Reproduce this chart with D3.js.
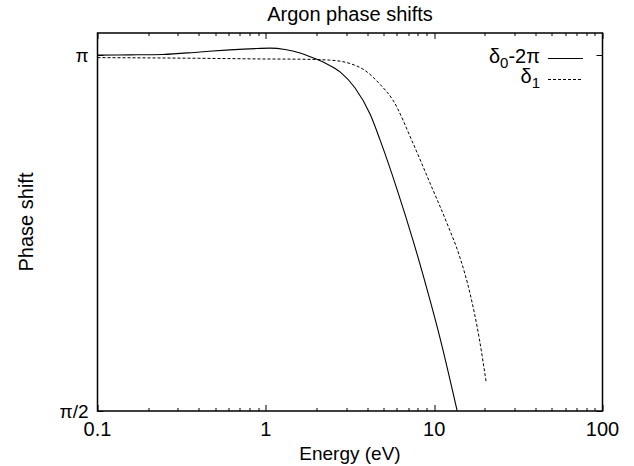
<!DOCTYPE html>
<html>
<head>
<meta charset="utf-8">
<script src="https://cdn.jsdelivr.net/npm/d3@7"></script>
<style>
  body { margin: 0; background: #fff; }
  text { font-family: "Liberation Sans", Arial, Helvetica, sans-serif; fill: #000; }
</style>
</head>
<body>
<div id="chart"></div>
<script>
// energies (eV) and phase shifts (radians)
var energy0 = [0.1, 0.156, 0.245, 0.406, 0.612, 0.886, 1.06, 1.30, 1.60, 1.83, 2.25, 2.76, 3.39, 4.16, 4.77, 6.01, 7.48, 9.44, 10.8, 13.7];
var delta0  = [3.141, 3.142, 3.144, 3.155, 3.164, 3.170, 3.172, 3.166, 3.150, 3.134, 3.106, 3.067, 2.996, 2.881, 2.767, 2.55, 2.325, 2.061, 1.897, 1.571];

var energy1 = [0.1, 0.406, 0.96, 1.60, 2.39, 3.16, 3.87, 4.77, 5.68, 7.48, 9.44, 11.9, 14.2, 16.3, 18.6, 20.4];
var delta1  = [3.130, 3.127, 3.124, 3.123, 3.119, 3.104, 3.074, 3.012, 2.943, 2.753, 2.577, 2.400, 2.250, 2.092, 1.884, 1.694];

var xTicks = [0.1, 1, 10, 100];
var xTickLabels = ["0.1", "1", "10", "100"];
var yTicks = [Math.PI / 2, Math.PI];
var yTickLabels = ["\u03c0/2", "\u03c0"];

var width = 634, height = 466;
var margin = {top: 33, right: 31.5, bottom: 55, left: 97.5};
var w = width - margin.left - margin.right,
    h = height - margin.top - margin.bottom;

var svg = d3.select("#chart").append("svg")
  .attr("width", width)
  .attr("height", height);

var g = svg.append("g")
  .attr("transform", "translate(" + margin.left + "," + margin.top + ")");

var x = d3.scaleLog().domain([0.1, 100]).range([0, w]);
var y = d3.scaleLinear().domain([Math.PI / 2, Math.PI + 0.097]).range([h, 0]);

// minor ticks 2..9 in each decade
var minor = [];
[0.1, 1, 10].forEach(function(d) {
  for (var k = 2; k <= 9; k++) minor.push(d * k);
});

var ticks = g.append("g").attr("stroke", "#000").attr("stroke-width", 1);
minor.forEach(function(d) {
  var px = Math.round(x(d)) + 0.5;
  ticks.append("line").attr("x1", px).attr("x2", px).attr("y1", h).attr("y2", h - 3);
  ticks.append("line").attr("x1", px).attr("x2", px).attr("y1", 0).attr("y2", 3);
});
xTicks.forEach(function(d) {
  var px = Math.round(x(d)) + 0.5;
  ticks.append("line").attr("x1", px).attr("x2", px).attr("y1", h).attr("y2", h - 6);
  ticks.append("line").attr("x1", px).attr("x2", px).attr("y1", 0).attr("y2", 6);
});
yTicks.forEach(function(d) {
  var py = Math.round(y(d)) + 0.5;
  ticks.append("line").attr("x1", 0).attr("x2", 6).attr("y1", py).attr("y2", py);
  ticks.append("line").attr("x1", w).attr("x2", w - 6).attr("y1", py).attr("y2", py);
});

// frame
g.append("rect")
  .attr("x", 0).attr("y", 0)
  .attr("width", w).attr("height", h)
  .style("fill", "none")
  .style("stroke", "#000")
  .style("stroke-width", 1.5);

g.selectAll("text.xt")
  .data(xTicks).enter()
  .append("text")
  .attr("class", "xt")
  .attr("x", function(d) { return x(d); })
  .attr("y", h + 25)
  .style("text-anchor", "middle")
  .style("font-size", "20px")
  .text(function(d, i) { return xTickLabels[i]; });

g.selectAll("text.yt")
  .data(yTicks).enter()
  .append("text")
  .attr("class", "yt")
  .attr("x", -9)
  .attr("y", function(d) { return y(d) + 7; })
  .style("text-anchor", "end")
  .style("font-size", "19px")
  .text(function(d, i) { return yTickLabels[i]; });

var line = d3.line()
  .x(function(d) { return x(d[0]); })
  .y(function(d) { return y(d[1]); })
  .curve(d3.curveMonotoneX);

g.append("path")
  .datum(d3.zip(energy0, delta0))
  .attr("d", line)
  .style("fill", "none")
  .style("stroke", "#000")
  .style("stroke-width", 1.1);

g.append("path")
  .datum(d3.zip(energy1, delta1))
  .attr("d", line)
  .style("fill", "none")
  .style("stroke", "#000")
  .style("stroke-width", 1)
  .style("stroke-dasharray", "3,2");

// legend
var legend = svg.append("g");
var l1 = legend.append("text")
  .attr("x", 540).attr("y", 63)
  .style("text-anchor", "end")
  .style("font-size", "20px");
l1.append("tspan").text("\u03b4");
l1.append("tspan").attr("dy", 5).style("font-size", "15px").text("0");
l1.append("tspan").attr("dy", -5).text("-2\u03c0");
legend.append("line")
  .attr("x1", 548).attr("x2", 583).attr("y1", 58.5).attr("y2", 58.5)
  .style("stroke", "#000");

var l2 = legend.append("text")
  .attr("x", 540).attr("y", 83)
  .style("text-anchor", "end")
  .style("font-size", "20px");
l2.append("tspan").text("\u03b4");
l2.append("tspan").attr("dy", 5).style("font-size", "15px").text("1");
legend.append("line")
  .attr("x1", 548).attr("x2", 583).attr("y1", 79.5).attr("y2", 79.5)
  .style("stroke", "#000")
  .style("stroke-dasharray", "3,2");

svg.append("text")
  .attr("x", margin.left + w / 2)
  .attr("y", 21)
  .style("text-anchor", "middle")
  .style("font-size", "20px")
  .text("Argon phase shifts");

svg.append("text")
  .attr("x", margin.left + w / 2)
  .attr("y", 460)
  .style("text-anchor", "middle")
  .style("font-size", "19px")
  .text("Energy  (eV)");

svg.append("text")
  .attr("transform", "translate(33," + (margin.top + h / 2) + ") rotate(-90)")
  .style("text-anchor", "middle")
  .style("font-size", "20px")
  .text("Phase shift");
</script>
</body>
</html>
